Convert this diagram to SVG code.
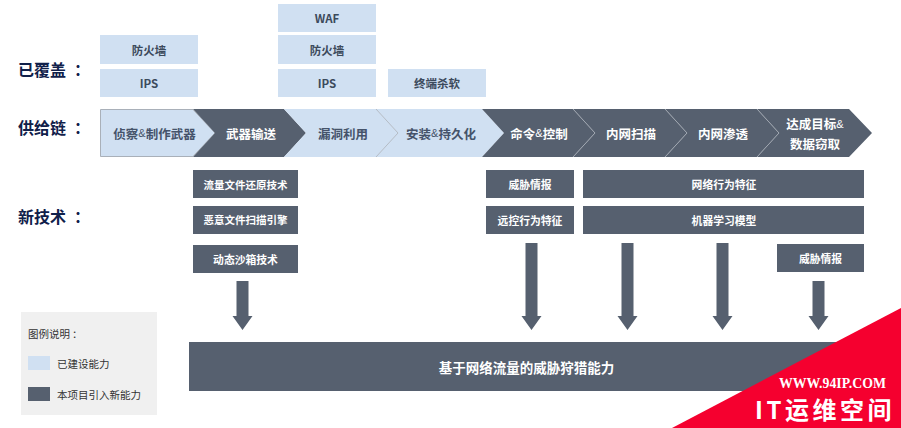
<svg xmlns="http://www.w3.org/2000/svg" width="901" height="428" viewBox="0 0 901 428">
<style>
text{font-family:"Noto Sans CJK SC","Liberation Sans",sans-serif;text-anchor:middle;dominant-baseline:central}
.lb{fill:#d0e0f2}.dk{fill:#56606f}
.t{font-size:11.500px;font-weight:700;fill:#3c4a5c}
.w{font-size:10.800px;font-weight:700;fill:#fff}
.c{font-size:12.500px;font-weight:700}
.h{font-size:16px;font-weight:700;fill:#10204a;text-anchor:start}
.s{font-size:10.500px;fill:#333;text-anchor:start}
.sep{fill:none;stroke:#a9b0b9;stroke-width:.8}
.amp{font-family:"Liberation Sans",sans-serif;font-size:11px;font-weight:400}
</style>
<defs>
<path id="ar" class="dk" d="M-6 0H6V35H10L0 49-10 35H-6Z"/>
<path id="arl" class="dk" d="M-6 0H6V73H10L0 87-10 73H-6Z"/>
</defs>
<g id="headings"><text class="h" x="18" y="69">已覆盖<tspan dx="8">：</tspan></text><text class="h" x="18" y="127">供给链<tspan dx="8">：</tspan></text><text class="h" x="18" y="216">新技术<tspan dx="8">：</tspan></text></g>
<g id="covered">
<g id="cov-waf"><rect class="lb" x="278" y="4" width="98" height="28"/><text class="t" x="327" y="17.500">WAF</text></g>
<g id="cov-fw1"><rect class="lb" x="100" y="35" width="98" height="29"/><text class="t" x="149" y="49.500">防火墙</text></g>
<g id="cov-fw2"><rect class="lb" x="278" y="35" width="98" height="29"/><text class="t" x="327" y="49.500">防火墙</text></g>
<g id="cov-ips1"><rect class="lb" x="100" y="69" width="98" height="28"/><text class="t" x="149" y="82.500">IPS</text></g>
<g id="cov-ips2"><rect class="lb" x="278" y="69" width="98" height="28"/><text class="t" x="327" y="82.500">IPS</text></g>
<g id="cov-av"><rect class="lb" x="388" y="69" width="98" height="28"/><text class="t" x="437" y="83">终端杀软</text></g>
</g>
<g id="chain">
<g id="s1"><path class="lb" stroke="#a9b0b9" d="M100.500 109.500H193L215 133 193 156.500H100.500Z"/><text class="c" x="154.500" y="133" fill="#45536a">侦察<tspan class="amp">&amp;</tspan>制作武器</text></g>
<g id="s2"><path class="dk" d="M193 109H284L306 133 284 157H193L215 133Z"/><text class="c" x="251" y="133" fill="#fff">武器输送</text></g>
<g id="s3"><path class="lb" d="M284 109H376L398 133 376 157H284L306 133Z"/><text class="c" x="343" y="133" fill="#45536a">漏洞利用</text></g>
<g id="s4"><path class="lb" d="M376 109H482L504 133 482 157H376L398 133Z"/><text class="c" x="441" y="133" fill="#45536a">安装<tspan class="amp">&amp;</tspan>持久化</text></g>
<g id="s5"><path class="dk" d="M482 109H573L595 133 573 157H482L504 133Z"/><text class="c" x="539" y="133" fill="#fff">命令<tspan class="amp">&amp;</tspan>控制</text></g>
<g id="s6"><path class="dk" d="M573 109H665L687 133 665 157H573L595 133Z"/><text class="c" x="631" y="133" fill="#fff">内网扫描</text></g>
<g id="s7"><path class="dk" d="M665 109H757L779 133 757 157H665L687 133Z"/><text class="c" x="723" y="133" fill="#fff">内网渗透</text></g>
<g id="s8"><path class="dk" d="M757 109H849L872 133 849 157H757L779 133Z"/><text class="c" x="815" y="123.500" fill="#fff">达成目标<tspan class="amp">&amp;</tspan></text><text class="c" x="815" y="143" fill="#fff">数据窃取</text></g>
<path class="sep" d="M376 109L398 133 376 157M573 109L595 133 573 157M665 109L687 133 665 157M757 109L779 133 757 157"/>
</g>
<g id="new-tech">
<g id="n1"><rect class="dk" x="193" y="170" width="105" height="28"/><text class="w" style="font-size:10.500px" x="245.500" y="184">流量文件还原技术</text></g>
<g id="n2"><rect class="dk" x="193" y="206" width="105" height="28"/><text class="w" style="font-size:10.500px" x="245.500" y="219.500">恶意文件扫描引擎</text></g>
<g id="n3"><rect class="dk" x="193" y="245" width="105" height="28"/><text class="w" x="245.500" y="258.500">动态沙箱技术</text></g>
<g id="n4"><rect class="dk" x="486" y="170" width="88" height="28"/><text class="w" x="530" y="184">威胁情报</text></g>
<g id="n5"><rect class="dk" x="486" y="206" width="88" height="28"/><text class="w" x="530" y="219.500">远控行为特征</text></g>
<g id="n6"><rect class="dk" x="583" y="170" width="281" height="28"/><text class="w" x="724" y="184">网络行为特征</text></g>
<g id="n7"><rect class="dk" x="583" y="206" width="281" height="28"/><text class="w" x="724" y="219.500">机器学习模型</text></g>
<g id="n8"><rect class="dk" x="777" y="244" width="87" height="28"/><text class="w" x="820.500" y="258">威胁情报</text></g>
</g>
<g id="connectors">
<use href="#ar" x="242.500" y="281"/><use href="#arl" x="531.500" y="243"/><use href="#arl" x="627.500" y="243"/><use href="#arl" x="722.500" y="243"/><use href="#ar" x="818.500" y="281"/>
</g>
<g id="result"><rect class="dk" x="189" y="342" width="680" height="49"/><text x="526.500" y="367" font-size="13.500px" font-weight="700" fill="#fff">基于网络流量的威胁狩猎能力</text></g>
<g id="legend"><rect x="21" y="312" width="136" height="103" fill="#f0f0f0"/>
<text class="s" x="28" y="333">图例说明<tspan dx="2">：</tspan></text>
<rect class="lb" x="28" y="356" width="22" height="14"/><text class="s" x="57" y="363">已建设能力</text>
<rect class="dk" x="28" y="387" width="22" height="14"/><text class="s" x="57" y="394">本项目引入新能力</text></g>
<g id="watermark"><path d="M901 308V428H672Z" fill="#f5002f"/>
<text x="832.500" y="383" font-size="13.800px" font-weight="700" fill="#fff" style="font-family:'Liberation Serif',serif">WWW.94IP.COM</text>
<text x="755" y="408" font-size="24px" font-weight="700" fill="#fff" letter-spacing="3.500" style="text-anchor:start">IT运维空间</text></g>
</svg>
